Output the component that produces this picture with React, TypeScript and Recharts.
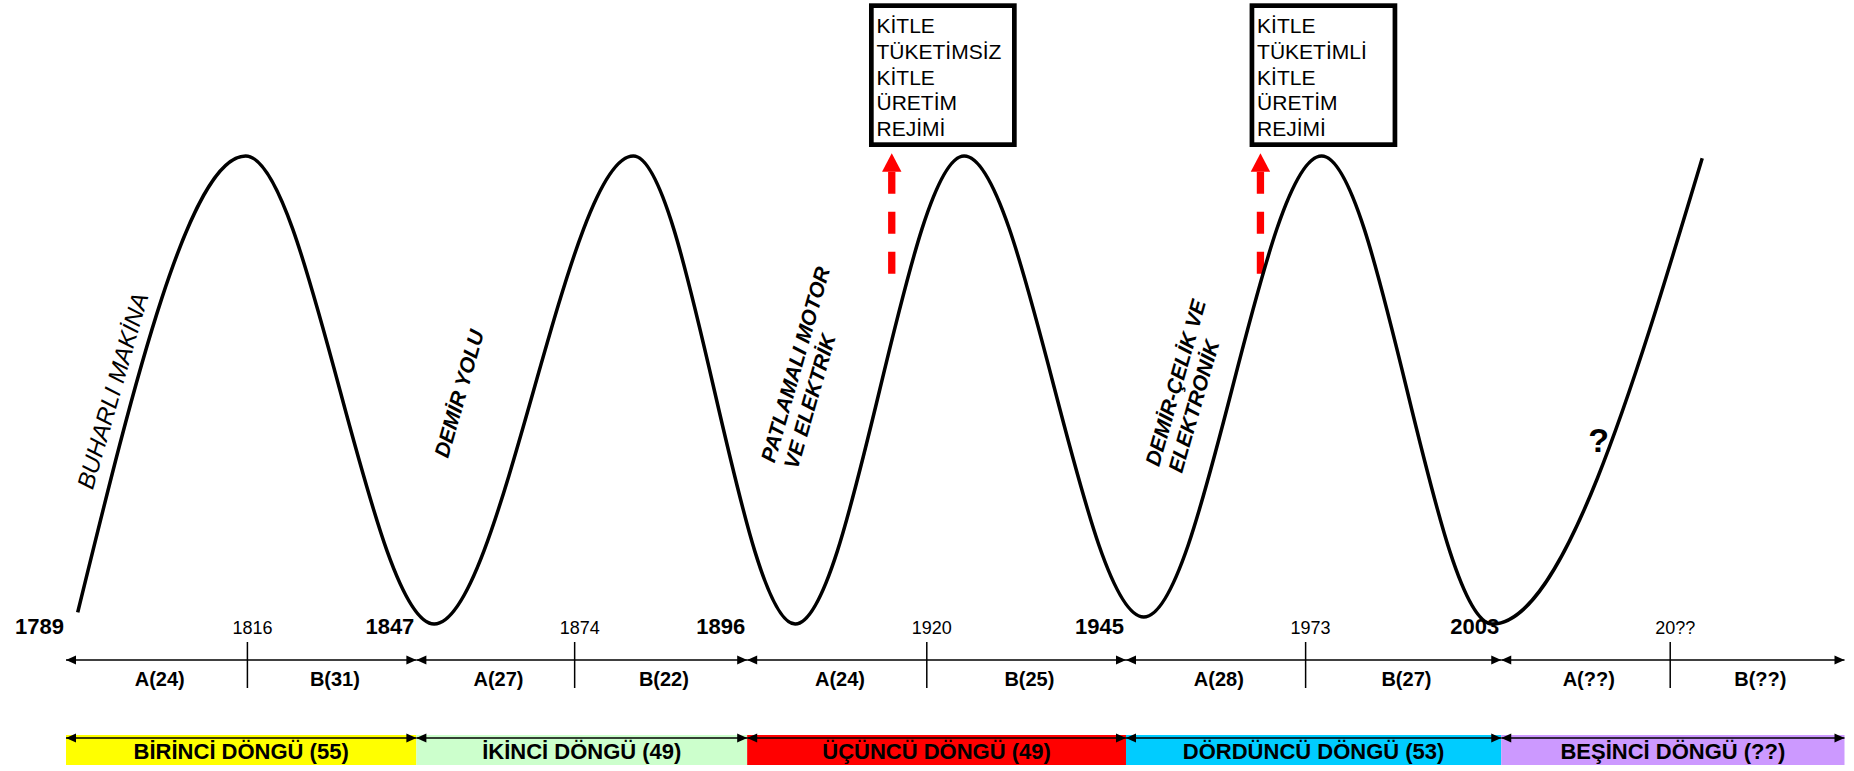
import React from 'react';
import {
  ComposedChart,
  Line,
  XAxis,
  YAxis,
  ReferenceLine,
  ReferenceArea,
  ReferenceDot,
} from 'recharts';

const FONT = '"Liberation Sans", Arial, Helvetica, sans-serif';

// ---------- DATA ----------
// t = position along the schematic timeline (one unit = one A or B phase), level = relative activity (0..100)
const waveT = [0.066, 1.01, 2.07, 3.19, 4.1, 5.05, 6.06, 7.06, 8.02, 9.2];
const waveLevel = [2.5, 100, 0, 100, 0, 100, 1.5, 100, 0, 99.5];

const cycleStartYears = ['1789', '1847', '1896', '1945', '2003'];
const cycleBoundT = [0, 1.97, 3.83, 5.96, 8.07, 10];
const peakYears = ['1816', '1874', '1920', '1973', '20??'];
const peakT = [1.02, 2.86, 4.84, 6.97, 9.02];
const phaseALabels = ['A(24)', 'A(27)', 'A(24)', 'A(28)', 'A(??)'];
const phaseBLabels = ['B(31)', 'B(22)', 'B(25)', 'B(27)', 'B(??)'];
const cycleNames = [
  'BİRİNCİ DÖNGÜ (55)',
  'İKİNCİ DÖNGÜ (49)',
  'ÜÇÜNCÜ DÖNGÜ (49)',
  'DÖRDÜNCÜ DÖNGÜ (53)',
  'BEŞİNCİ DÖNGÜ (??)',
];

const techLines = [
  ['BUHARLI MAKİNA'],
  ['DEMİR YOLU'],
  ['PATLAMALI MOTOR', 'VE ELEKTRİK'],
  ['DEMİR-ÇELİK VE', 'ELEKTRONİK'],
];
const techT = [0.15, 2.148, 3.984, 6.145];
const techLevel = [28.5, 35.3, 34.3, 33.5];
const techBold = [false, true, true, true];

const outlookMark = '?';
const outlookT = 8.617;
const outlookLevel = 39.3;

const regimeLines = [
  ['KİTLE', 'TÜKETİMSİZ', 'KİTLE', 'ÜRETİM', 'REJİMİ'],
  ['KİTLE', 'TÜKETİMLİ', 'KİTLE', 'ÜRETİM', 'REJİMİ'],
];
const regimeBoxT = [4.515, 6.655];
const regimeArrowT = [4.643, 6.716];

// ---------- STYLE ----------
const CYCLE_COLORS = ['#ffff00', '#ccffcc', '#ff0000', '#00ccff', '#cc99ff'];
const W = 1854;
const H = 771;
const MARGIN = { top: 156, right: 9.5, bottom: 147, left: 66 };

const waveData = waveT.map((t, i) => ({ t, level: waveLevel[i] }));

const headLeft = (x: number, y: number, len = 10, hw = 4.5) =>
  `${x},${y} ${x + len},${y - hw} ${x + len},${y + hw}`;
const headRight = (x: number, y: number, len = 10, hw = 4.5) =>
  `${x},${y} ${x - len},${y - hw} ${x - len},${y + hw}`;

export default function App() {
  return (
    <div style={{ width: W, height: H }}>
      <style>{'html,body{margin:0;padding:0;overflow:hidden;background:#fff}'}</style>
      <ComposedChart width={W} height={H} data={waveData} margin={MARGIN}>
        <XAxis type="number" dataKey="t" domain={[0, 10]} hide />
        <YAxis type="number" domain={[0, 100]} hide />

        {/* Cycle bands */}
        {cycleNames.map((name, i) => (
          <ReferenceArea
            key={'band' + i}
            x1={cycleBoundT[i]}
            x2={cycleBoundT[i + 1]}
            shape={(p: any) => {
              const bottom = p.y + p.height;
              const x0 = p.x;
              const x1 = p.x + p.width;
              const ly = bottom + 114;
              return (
                <g>
                  <rect x={x0} y={bottom + 111} width={p.width} height={30} fill={CYCLE_COLORS[i]} />
                  <line x1={x0} x2={x1} y1={ly} y2={ly} stroke="#000" strokeWidth={1.5} />
                  <polygon points={headLeft(x0, ly)} fill="#000" />
                  <polygon points={headRight(x1, ly)} fill="#000" />
                  <text
                    x={(x0 + x1) / 2}
                    y={bottom + 135}
                    textAnchor="middle"
                    fontFamily={FONT}
                    fontWeight={700}
                    fontSize={22}
                    fill="#000"
                  >
                    {name}
                  </text>
                </g>
              );
            }}
          />
        ))}

        {/* A phases */}
        {phaseALabels.map((lab, i) => (
          <ReferenceArea
            key={'pa' + i}
            x1={cycleBoundT[i]}
            x2={peakT[i]}
            shape={(p: any) => {
              const bottom = p.y + p.height;
              const ly = bottom + 36;
              return (
                <g>
                  <line x1={p.x} x2={p.x + p.width} y1={ly} y2={ly} stroke="#000" strokeWidth={1.5} />
                  <polygon points={headLeft(p.x, ly)} fill="#000" />
                  <text
                    x={p.x + p.width / 2 + 3}
                    y={bottom + 62}
                    textAnchor="middle"
                    fontFamily={FONT}
                    fontWeight={700}
                    fontSize={20}
                    fill="#000"
                  >
                    {lab}
                  </text>
                </g>
              );
            }}
          />
        ))}

        {/* B phases */}
        {phaseBLabels.map((lab, i) => (
          <ReferenceArea
            key={'pb' + i}
            x1={peakT[i]}
            x2={cycleBoundT[i + 1]}
            shape={(p: any) => {
              const bottom = p.y + p.height;
              const ly = bottom + 36;
              return (
                <g>
                  <line x1={p.x} x2={p.x + p.width} y1={ly} y2={ly} stroke="#000" strokeWidth={1.5} />
                  <polygon points={headRight(p.x + p.width, ly)} fill="#000" />
                  <text
                    x={p.x + p.width / 2 + 3}
                    y={bottom + 62}
                    textAnchor="middle"
                    fontFamily={FONT}
                    fontWeight={700}
                    fontSize={20}
                    fill="#000"
                  >
                    {lab}
                  </text>
                </g>
              );
            }}
          />
        ))}

        {/* Cycle start years */}
        {cycleStartYears.map((yr, i) => (
          <ReferenceLine
            key={'cy' + i}
            x={cycleBoundT[i]}
            shape={(p: any) => {
              const bottom = Math.max(p.y1, p.y2);
              return (
                <text
                  x={p.x1 - 2}
                  y={bottom + 10}
                  textAnchor="end"
                  fontFamily={FONT}
                  fontWeight={700}
                  fontSize={22}
                  fill="#000"
                >
                  {yr}
                </text>
              );
            }}
          />
        ))}

        {/* Peak years and ticks */}
        {peakYears.map((yr, i) => (
          <ReferenceLine
            key={'py' + i}
            x={peakT[i]}
            shape={(p: any) => {
              const bottom = Math.max(p.y1, p.y2);
              return (
                <g>
                  <line x1={p.x1} x2={p.x1} y1={bottom + 18} y2={bottom + 64} stroke="#000" strokeWidth={1.5} />
                  <text
                    x={p.x1 + 5}
                    y={bottom + 10}
                    textAnchor="middle"
                    fontFamily={FONT}
                    fontSize={18}
                    fill="#000"
                  >
                    {yr}
                  </text>
                </g>
              );
            }}
          />
        ))}

        {/* Regime boxes */}
        {regimeLines.map((lines, i) => (
          <ReferenceLine
            key={'rb' + i}
            x={regimeBoxT[i]}
            shape={(p: any) => {
              const top = Math.min(p.y1, p.y2);
              return (
                <g>
                  <rect
                    x={p.x1 + 2.35}
                    y={top - 150.35}
                    width={143}
                    height={139}
                    fill="#fff"
                    stroke="#000"
                    strokeWidth={4.7}
                  />
                  <text fontFamily={FONT} fontSize={21} fill="#000">
                    {lines.map((l, j) => (
                      <tspan key={j} x={p.x1 + 7.5} y={top - 122.7 + j * 25.6}>
                        {l}
                      </tspan>
                    ))}
                  </text>
                </g>
              );
            }}
          />
        ))}

        {/* Red dashed arrows */}
        {regimeArrowT.map((t, i) => (
          <ReferenceLine
            key={'ra' + i}
            x={t}
            shape={(p: any) => {
              const top = Math.min(p.y1, p.y2);
              const x = p.x1;
              return (
                <g>
                  <polygon
                    points={`${x},${top - 2.7} ${x - 9.7},${top + 15.7} ${x + 9.7},${top + 15.7}`}
                    fill="#ff0000"
                  />
                  <line
                    x1={x}
                    x2={x}
                    y1={top + 15.7}
                    y2={top + 120}
                    stroke="#ff0000"
                    strokeWidth={7.3}
                    strokeDasharray="22 18"
                  />
                </g>
              );
            }}
          />
        ))}

        {/* Technology labels */}
        {techLines.map((lines, i) => (
          <ReferenceDot
            key={'tl' + i}
            x={techT[i]}
            y={techLevel[i]}
            r={0}
            shape={(p: any) => (
              <g transform={`translate(${p.cx},${p.cy}) rotate(-74)`}>
                <text
                  x={0}
                  y={0}
                  fontFamily={FONT}
                  fontStyle="italic"
                  fontWeight={techBold[i] ? 700 : 400}
                  fontSize={techBold[i] ? 21 : 24}
                  fill="#000"
                >
                  {lines.map((l, j) => (
                    <tspan key={j} x={0} dy={j === 0 ? 0 : 24}>
                      {l}
                    </tspan>
                  ))}
                </text>
              </g>
            )}
          />
        ))}

        <ReferenceDot
          x={outlookT}
          y={outlookLevel}
          r={0}
          shape={(p: any) => (
            <text
              x={p.cx}
              y={p.cy + 12}
              textAnchor="middle"
              fontFamily={FONT}
              fontWeight={700}
              fontSize={34}
              fill="#000"
            >
              {outlookMark}
            </text>
          )}
        />

        <Line
          type="monotone"
          dataKey="level"
          stroke="#000"
          strokeWidth={3.5}
          dot={false}
          activeDot={false}
          isAnimationActive={false}
        />
      </ComposedChart>
    </div>
  );
}
